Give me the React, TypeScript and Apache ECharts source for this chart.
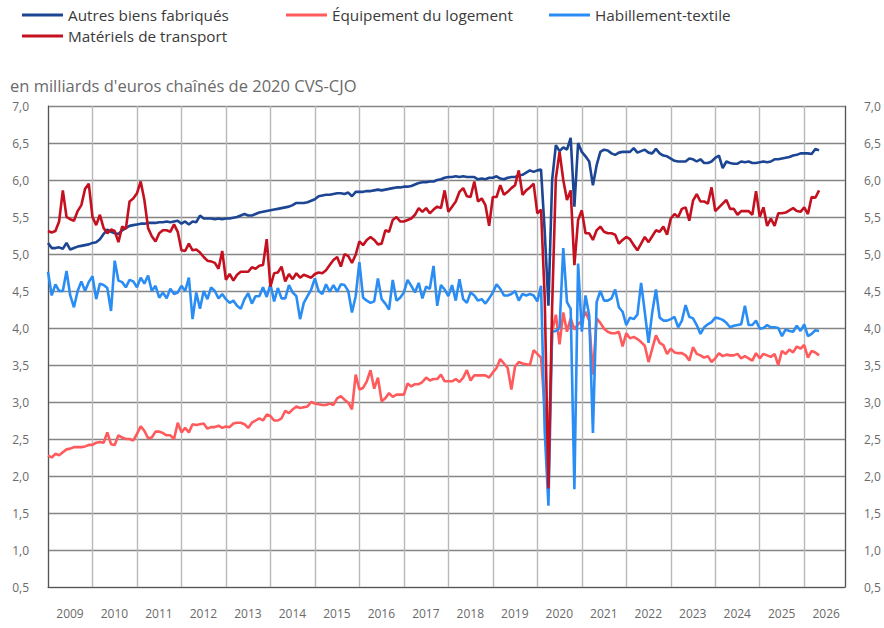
import React, { useEffect, useRef } from 'react';
import * as echarts from 'echarts';

// Monthly data, January 2009 to May 2026 (billions of chained 2020 euros, CVS-CJO)
const yearLabels = ['2009', '2010', '2011', '2012', '2013', '2014', '2015', '2016', '2017', '2018', '2019', '2020', '2021', '2022', '2023', '2024', '2025', '2026'];

const autresBiens = [
  5.15, 5.08, 5.08, 5.09, 5.07, 5.15, 5.06, 5.08, 5.10, 5.11, 5.12, 5.13,
  5.15, 5.16, 5.20, 5.27, 5.33, 5.30, 5.28, 5.27, 5.32, 5.35, 5.38, 5.39,
  5.40, 5.41, 5.41, 5.42, 5.42, 5.42, 5.43, 5.43, 5.44, 5.43, 5.44, 5.45,
  5.41, 5.44, 5.40, 5.44, 5.43, 5.52, 5.48, 5.48, 5.48, 5.47, 5.48, 5.47,
  5.48, 5.48, 5.49, 5.50, 5.52, 5.54, 5.52, 5.52, 5.54, 5.56, 5.57, 5.58,
  5.59, 5.60, 5.61, 5.62, 5.63, 5.64, 5.66, 5.69, 5.69, 5.69, 5.70, 5.72,
  5.74, 5.78, 5.79, 5.80, 5.80, 5.81, 5.82, 5.82, 5.81, 5.83, 5.78, 5.84,
  5.84, 5.84, 5.85, 5.85, 5.86, 5.87, 5.86, 5.87, 5.88, 5.89, 5.90, 5.90,
  5.91, 5.91, 5.92, 5.94, 5.96, 5.97, 5.97, 5.98, 5.98, 6.00, 6.01, 6.03,
  6.04, 6.04, 6.05, 6.04, 6.05, 6.04, 6.04, 6.04, 6.01, 6.02, 6.01, 6.03,
  6.03, 6.05, 6.02, 6.01, 6.03, 6.04, 6.04, 6.06, 6.07, 6.10, 6.13, 6.11,
  6.13, 6.14, 5.30, 4.30, 6.00, 6.47, 6.39, 6.44, 6.41, 6.57, 5.64, 6.50,
  6.38, 6.32, 6.25, 5.93, 6.20, 6.38, 6.41, 6.40, 6.36, 6.34, 6.37, 6.38,
  6.38, 6.38, 6.43, 6.37, 6.39, 6.41, 6.37, 6.36, 6.42, 6.36, 6.33, 6.32,
  6.29, 6.26, 6.25, 6.25, 6.25, 6.29, 6.28, 6.25, 6.28, 6.23, 6.23, 6.25,
  6.30, 6.33, 6.16, 6.25, 6.23, 6.22, 6.22, 6.25, 6.24, 6.25, 6.23, 6.23,
  6.24, 6.25, 6.24, 6.25, 6.28, 6.28, 6.29, 6.30, 6.31, 6.33, 6.34, 6.36,
  6.36, 6.36, 6.35, 6.42, 6.40,
];

const equipementLogement = [
  2.28, 2.25, 2.30, 2.28, 2.32, 2.36, 2.37, 2.39, 2.39, 2.39, 2.40, 2.42,
  2.42, 2.45, 2.46, 2.45, 2.59, 2.43, 2.42, 2.55, 2.52, 2.50, 2.50, 2.48,
  2.57, 2.67, 2.61, 2.51, 2.52, 2.60, 2.60, 2.58, 2.55, 2.55, 2.50, 2.72,
  2.59, 2.65, 2.59, 2.70, 2.69, 2.70, 2.71, 2.64, 2.66, 2.66, 2.68, 2.65,
  2.67, 2.66, 2.71, 2.72, 2.72, 2.70, 2.65, 2.72, 2.75, 2.78, 2.75, 2.83,
  2.81, 2.75, 2.75, 2.78, 2.88, 2.85, 2.90, 2.94, 2.92, 2.93, 2.94, 3.00,
  2.98, 2.97, 2.96, 2.96, 2.98, 2.96, 3.05, 3.08, 3.03, 2.99, 2.90, 3.37,
  3.17, 3.19, 3.28, 3.43, 3.18, 3.33, 3.01, 3.05, 3.12, 3.07, 3.10, 3.10,
  3.10, 3.25, 3.21, 3.24, 3.24, 3.27, 3.33, 3.29, 3.31, 3.31, 3.37, 3.28,
  3.28, 3.28, 3.31, 3.27, 3.33, 3.43, 3.29, 3.36, 3.36, 3.36, 3.36, 3.33,
  3.40, 3.46, 3.58, 3.52, 3.46, 3.17, 3.48, 3.54, 3.52, 3.51, 3.50, 3.70,
  3.65, 3.60, 2.90, 2.20, 3.95, 4.18, 3.78, 4.21, 3.95, 4.13, 3.98, 4.05,
  4.10, 4.22, 4.10, 3.37, 4.13, 4.07, 3.99, 3.95, 3.93, 3.93, 3.95, 3.75,
  3.93, 3.86, 3.88, 3.85, 3.81, 3.76, 3.54, 3.72, 3.90, 3.80, 3.77, 3.65,
  3.72, 3.67, 3.66, 3.66, 3.63, 3.56, 3.74, 3.65, 3.63, 3.60, 3.62, 3.54,
  3.59, 3.66, 3.62, 3.64, 3.63, 3.63, 3.65, 3.59, 3.62, 3.59, 3.56, 3.66,
  3.59, 3.65, 3.63, 3.61, 3.65, 3.50, 3.69, 3.65, 3.71, 3.67, 3.75, 3.72,
  3.77, 3.60, 3.69, 3.67, 3.63,
];

const habillementTextile = [
  4.76, 4.44, 4.59, 4.50, 4.50, 4.77, 4.44, 4.28, 4.50, 4.63, 4.50, 4.62,
  4.70, 4.39, 4.60, 4.58, 4.54, 4.23, 4.91, 4.64, 4.62, 4.55, 4.65, 4.63,
  4.55, 4.68, 4.60, 4.71, 4.50, 4.57, 4.41, 4.48, 4.40, 4.53, 4.46, 4.48,
  4.57, 4.50, 4.68, 4.12, 4.48, 4.26, 4.50, 4.39, 4.55, 4.50, 4.40, 4.46,
  4.39, 4.34, 4.37, 4.30, 4.26, 4.39, 4.47, 4.33, 4.43, 4.43, 4.55, 4.42,
  4.59, 4.36, 4.54, 4.40, 4.40, 4.58, 4.48, 4.43, 4.12, 4.34, 4.43, 4.52,
  4.67, 4.50, 4.46, 4.59, 4.49, 4.58, 4.49, 4.59, 4.58, 4.50, 4.21, 4.43,
  4.89, 4.41, 4.37, 4.34, 4.36, 4.67, 4.39, 4.33, 4.25, 4.65, 4.37, 4.41,
  4.48, 4.65, 4.57, 4.48, 4.61, 4.40, 4.56, 4.53, 4.84, 4.30, 4.58, 4.52,
  4.43, 4.58, 4.37, 4.66, 4.39, 4.34, 4.48, 4.44, 4.37, 4.39, 4.33, 4.40,
  4.48, 4.59, 4.53, 4.44, 4.44, 4.46, 4.50, 4.37, 4.46, 4.44, 4.46, 4.44,
  4.36, 4.57, 2.60, 1.60, 3.95, 3.96, 4.00, 5.08, 4.35, 4.26, 1.82, 4.87,
  3.95, 4.44, 4.17, 2.58, 4.35, 4.50, 4.37, 4.37, 4.40, 4.52, 4.28, 4.22,
  4.04, 4.14, 4.12, 4.18, 4.61, 4.21, 3.80, 4.21, 4.52, 4.14, 4.10, 4.10,
  4.12, 4.15, 4.01, 4.10, 4.31, 4.15, 4.13, 4.04, 3.92, 4.01, 4.05, 4.08,
  4.14, 4.13, 4.11, 4.07, 4.01, 4.03, 4.04, 4.05, 4.30, 4.04, 4.04, 4.10,
  3.99, 4.00, 4.04, 4.01, 4.01, 4.00, 3.89, 3.98, 3.96, 3.95, 4.03, 3.96,
  4.05, 3.89, 3.92, 3.97, 3.96,
];

const materielsTransport = [
  5.31, 5.29, 5.31, 5.44, 5.86, 5.50, 5.47, 5.45, 5.58, 5.66, 5.88, 5.95,
  5.50, 5.39, 5.53, 5.35, 5.28, 5.33, 5.31, 5.16, 5.37, 5.34, 5.71, 5.75,
  5.82, 5.98, 5.73, 5.35, 5.24, 5.17, 5.28, 5.32, 5.32, 5.30, 5.40, 5.30,
  5.05, 5.04, 5.14, 5.05, 5.06, 5.02, 4.96, 4.91, 4.90, 4.88, 4.80, 5.04,
  4.65, 4.73, 4.64, 4.72, 4.76, 4.76, 4.76, 4.82, 4.80, 4.84, 4.85, 5.20,
  4.56, 4.74, 4.75, 4.83, 4.63, 4.73, 4.66, 4.74, 4.68, 4.72, 4.70, 4.68,
  4.73, 4.75, 4.74, 4.78, 4.85, 4.92, 4.96, 4.83, 5.00, 4.97, 4.88, 4.99,
  5.17, 5.12, 5.19, 5.23, 5.19, 5.13, 5.14, 5.32, 5.30, 5.46, 5.50, 5.44,
  5.44, 5.46, 5.48, 5.53, 5.62, 5.57, 5.62, 5.55, 5.60, 5.64, 5.62, 5.86,
  5.57, 5.64, 5.71, 5.84, 5.89, 5.78, 5.77, 5.98, 5.71, 5.75, 5.66, 5.38,
  5.77, 5.77, 5.93, 5.80, 5.84, 5.89, 5.93, 6.13, 5.80, 5.86, 5.90, 5.95,
  5.55, 5.60, 4.40, 1.83, 4.30, 6.02, 6.38, 6.00, 5.73, 5.86, 4.85, 5.46,
  5.59, 5.28, 5.28, 5.19, 5.32, 5.37, 5.30, 5.28, 5.28, 5.26, 5.14, 5.19,
  5.23, 5.20, 5.12, 5.05, 5.14, 5.23, 5.16, 5.24, 5.32, 5.30, 5.37, 5.26,
  5.48, 5.54, 5.50, 5.61, 5.63, 5.45, 5.72, 5.81, 5.71, 5.71, 5.68, 5.90,
  5.58, 5.63, 5.68, 5.73, 5.61, 5.61, 5.53, 5.58, 5.58, 5.58, 5.53, 5.85,
  5.50, 5.63, 5.38, 5.48, 5.38, 5.55, 5.55, 5.56, 5.59, 5.62, 5.58, 5.57,
  5.63, 5.54, 5.77, 5.76, 5.86,
];

const seriesNames = ['Autres biens fabriqués', 'Équipement du logement', 'Habillement-textile', 'Matériels de transport'];
const seriesValues = [autresBiens, equipementLogement, habillementTextile, materielsTransport];
const seriesColors = ['#1c4593', '#ff5a5c', '#2a8df4', '#c4101f'];

const FONT = 'Open Sans';

export default function App() {
  const ref = useRef<HTMLDivElement>(null);

  useEffect(() => {
    if (!ref.current) return;
    const chart = echarts.init(ref.current, null, { renderer: 'svg' });
    const lastMonth = yearLabels.length * 12 - 1;

    const legendCommon = {
      icon: 'rect',
      itemWidth: 41,
      itemHeight: 3,
      itemGap: 5,
      padding: 0,
      top: 7,
      selectedMode: false,
      textStyle: { fontFamily: FONT, fontSize: 15.3, lineHeight: 16, color: '#3a3a3a' },
    };

    chart.setOption({
      animation: false,
      title: {
        text: "en milliards d'euros chaînés de 2020 CVS-CJO",
        left: 10,
        top: 76.5,
        padding: 0,
        textStyle: { fontFamily: FONT, fontSize: 16.5, fontWeight: 'normal', color: '#6a6a6a' },
      },
      legend: [
        { ...legendCommon, left: 22, orient: 'vertical', data: [seriesNames[0], seriesNames[3]] },
        { ...legendCommon, left: 286, orient: 'horizontal', data: [seriesNames[1]] },
        { ...legendCommon, left: 549, orient: 'horizontal', data: [seriesNames[2]] },
      ],
      grid: { left: 48, right: 39, top: 106, bottom: 41, containLabel: false },
      xAxis: {
        type: 'value',
        min: 0,
        max: lastMonth,
        interval: 12,
        axisLine: { show: true, lineStyle: { color: '#555555', width: 1.2 } },
        axisTick: { show: false },
        splitLine: { show: true, lineStyle: { color: '#b8b8b8', width: 1.4 } },
        axisLabel: {
          fontFamily: FONT,
          fontSize: 12,
          color: '#6a6a6a',
          margin: 20,
          padding: [0, 0, 0, 44],
          showMaxLabel: true,
          formatter: (v: number) => {
            const k = v / 12;
            return Number.isInteger(k) && k < yearLabels.length ? yearLabels[k] : '';
          },
        },
      },
      yAxis: [
        {
          type: 'value',
          position: 'left',
          min: 0.5,
          max: 7.0,
          interval: 0.5,
          axisLine: { show: true, lineStyle: { color: '#555555', width: 1.2 } },
          axisTick: { show: false },
          splitLine: { show: true, lineStyle: { color: '#858585', width: 1.4 } },
          axisLabel: {
            fontFamily: FONT,
            fontSize: 12,
            color: '#6a6a6a',
            margin: 19,
            formatter: (v: number) => v.toFixed(1).replace('.', ','),
          },
        },
        {
          type: 'value',
          position: 'right',
          min: 0.5,
          max: 7.0,
          interval: 0.5,
          axisLine: { show: true, lineStyle: { color: '#555555', width: 1.2 } },
          axisTick: { show: false },
          splitLine: { show: false },
          axisLabel: {
            fontFamily: FONT,
            fontSize: 12,
            color: '#6a6a6a',
            margin: 19,
            formatter: (v: number) => v.toFixed(1).replace('.', ','),
          },
        },
      ],
      series: seriesNames.map((name, s) => ({
        name,
        type: 'line',
        yAxisIndex: 0,
        showSymbol: false,
        symbol: 'none',
        silent: true,
        color: seriesColors[s],
        lineStyle: { color: seriesColors[s], width: 2.6 },
        emphasis: { disabled: true },
        data: seriesValues[s].map((v, i) => [i, v]),
      })),
    });

    return () => chart.dispose();
  }, []);

  return (
    <div
      ref={ref}
      style={{ position: 'fixed', left: 0, top: 0, width: 884, height: 628, background: '#ffffff' }}
    />
  );
}
